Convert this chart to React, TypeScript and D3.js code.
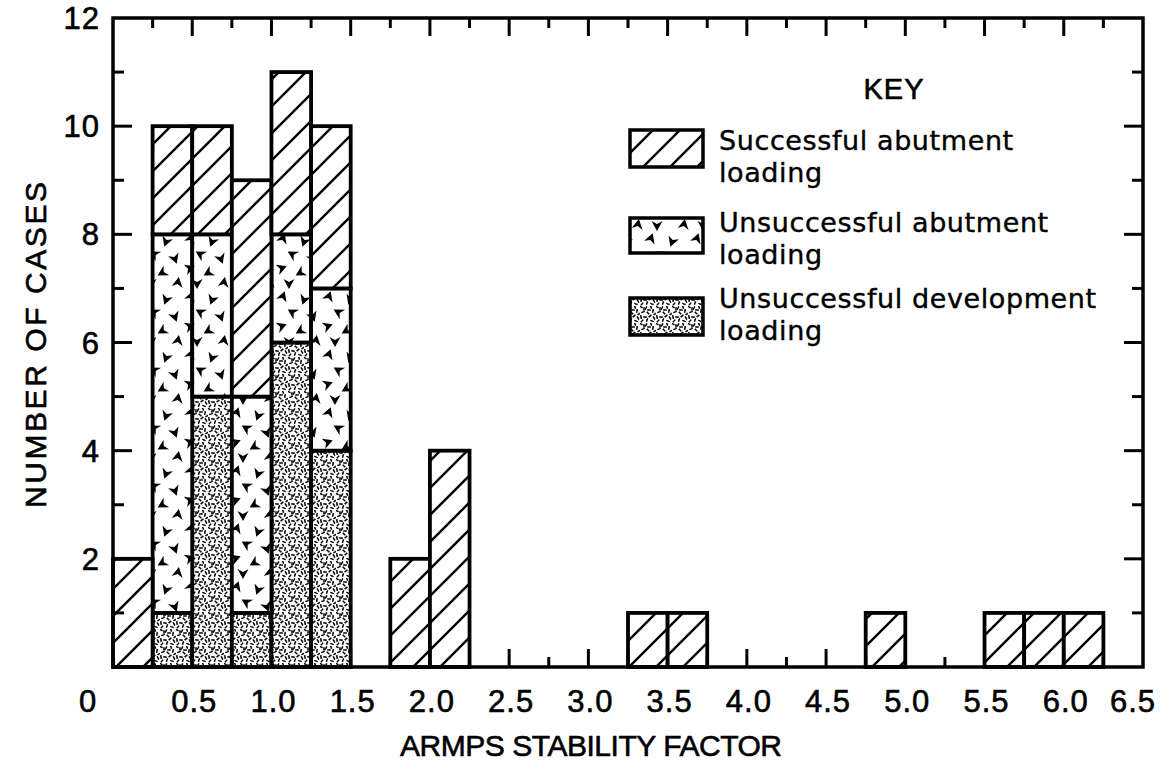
import React, { useEffect, useRef } from 'react';
import * as d3 from 'd3';

// histogram bins (left edge of each 0.25-wide bin that has cases)
const binStarts = [0, 0.25, 0.5, 0.75, 1.0, 1.25, 1.75, 2.0, 3.25, 3.5, 4.75, 5.5, 5.75, 6.0];
const devLoading = [0, 1, 5, 1, 6, 4, 0, 0, 0, 0, 0, 0, 0, 0];
const failedAbutment = [0, 7, 3, 4, 2, 3, 0, 0, 0, 0, 0, 0, 0, 0];
const successAbutment = [2, 2, 2, 4, 3, 3, 2, 4, 1, 1, 1, 1, 1, 1];
const binWidth = 0.25;

const xTickLabels = ['0', '0.5', '1.0', '1.5', '2.0', '2.5', '3.0', '3.5', '4.0', '4.5', '5.0', '5.5', '6.0', '6.5'];
const yTickLabels = ['2', '4', '6', '8', '10', '12'];

const legendItems = [
  { key: 'success', lines: ['Successful abutment', 'loading'] },
  { key: 'failAbut', lines: ['Unsuccessful abutment', 'loading'] },
  { key: 'dev', lines: ['Unsuccessful development', 'loading'] },
];

// texture marks for the hand-drawn patterns
const chevrons = [
  [7, 6, 20], [28, 10, 200], [16, 22, 300], [37, 27, 160],
  [6, 36, 70], [24, 41, 240], [40, 50, 10], [13, 52, 180],
];
const specks = [
  [1, 1, 30], [6, 2, 120], [11, 1, 70], [3, 6, 160], [8, 7, 45], [13, 5, 100],
  [1, 11, 80], [5, 11, 10], [10, 10, 140], [14, 12, 60], [7, 14, 110], [12, 15, 20],
  [2, 15, 130], [4, 3, 90], [15, 8, 150], [9, 4, 0],
];

const FONT = '"Liberation Sans", Arial, sans-serif';
const KEY_FONT = '"DejaVu Sans", "Liberation Sans", sans-serif';

const App = () => {
  const ref = useRef<SVGSVGElement>(null);

  useEffect(() => {
    const svg = d3.select(ref.current);
    svg.selectAll('*').remove();

    const W = 1168, H = 769;
    const x = d3.scaleLinear().domain([0, 6.5]).range([113, 1143]);
    const y = d3.scaleLinear().domain([0, 12]).range([667, 18]);

    svg.attr('width', W).attr('height', H);
    svg.append('rect').attr('width', W).attr('height', H).attr('fill', '#fff');

    const defs = svg.append('defs');

    // diagonal hatch
    const hatch = defs.append('pattern')
      .attr('id', 'hatch').attr('patternUnits', 'userSpaceOnUse')
      .attr('width', 27).attr('height', 27);
    hatch.append('rect').attr('width', 27).attr('height', 27).attr('fill', '#fff');
    hatch.append('path')
      .attr('d', 'M-2,29 L29,-2 M-7,7 L7,-7 M20,34 L34,20')
      .attr('stroke', '#000').attr('stroke-width', 2.4);

    // scattered arrowheads
    const chev = defs.append('pattern')
      .attr('id', 'chev').attr('patternUnits', 'userSpaceOnUse')
      .attr('width', 46).attr('height', 58);
    chev.append('rect').attr('width', 46).attr('height', 58).attr('fill', '#fff');
    chev.selectAll('path').data(chevrons).enter().append('path')
      .attr('d', 'M0,-5 L5.5,5 L0,2 L-5.5,5 Z')
      .attr('transform', d => `translate(${d[0]},${d[1]}) rotate(${d[2]})`)
      .attr('fill', '#000');

    // fine stipple
    const stip = defs.append('pattern')
      .attr('id', 'stip').attr('patternUnits', 'userSpaceOnUse')
      .attr('width', 16).attr('height', 17);
    stip.append('rect').attr('width', 16).attr('height', 17).attr('fill', '#fff');
    stip.selectAll('line').data(specks).enter().append('line')
      .attr('x1', -1.8).attr('x2', 1.8).attr('y1', 0).attr('y2', 0)
      .attr('transform', d => `translate(${d[0]},${d[1]}) rotate(${d[2]})`)
      .attr('stroke', '#000').attr('stroke-width', 1.5);

    const fills: Record<string, string> = {
      dev: 'url(#stip)', failAbut: 'url(#chev)', success: 'url(#hatch)',
    };

    // stacked bars
    const rows = binStarts.map((b, i) => ({
      bin: b, dev: devLoading[i], failAbut: failedAbutment[i], success: successAbutment[i],
    }));
    const stack = d3.stack<any>().keys(['dev', 'failAbut', 'success'])(rows);

    stack.forEach(layer => {
      svg.append('g').selectAll('rect')
        .data(layer.filter(d => d[1] > d[0]))
        .enter().append('rect')
        .attr('x', d => x(d.data.bin))
        .attr('width', x(binWidth) - x(0))
        .attr('y', d => y(d[1]))
        .attr('height', d => y(d[0]) - y(d[1]))
        .attr('fill', fills[layer.key])
        .attr('stroke', '#000').attr('stroke-width', 3.8);
    });

    // frame
    svg.append('rect')
      .attr('x', x(0)).attr('y', y(12))
      .attr('width', x(6.5) - x(0)).attr('height', y(0) - y(12))
      .attr('fill', 'none').attr('stroke', '#000').attr('stroke-width', 3.5);

    // inward ticks
    const ticks = svg.append('g').attr('stroke', '#000').attr('stroke-width', 3);
    d3.range(1, 26).forEach(k => {
      const px = x(k * 0.25);
      const len = k % 2 === 0 ? 18 : 10;
      ticks.append('line').attr('x1', px).attr('x2', px).attr('y1', y(0)).attr('y2', y(0) - len);
      ticks.append('line').attr('x1', px).attr('x2', px).attr('y1', y(12)).attr('y2', y(12) + len);
    });
    d3.range(1, 12).forEach(k => {
      const py = y(k);
      const len = k % 2 === 0 ? 19 : 11;
      ticks.append('line').attr('x1', x(0)).attr('x2', x(0) + len).attr('y1', py).attr('y2', py);
      ticks.append('line').attr('x1', x(6.5)).attr('x2', x(6.5) - len).attr('y1', py).attr('y2', py);
    });

    const textStyle = (sel: any, size: number, family = FONT) => sel
      .style('font-family', family).style('font-size', `${size}px`)
      .attr('fill', '#000').attr('stroke', '#000').attr('stroke-width', 0.6);

    // tick labels
    svg.append('g').selectAll('text').data(xTickLabels).enter().append('text')
      .attr('x', (d, i) => x(i * 0.5) + (i === 0 ? -25 : i === 13 ? -10 : 2))
      .attr('y', 712)
      .attr('text-anchor', 'middle')
      .style('letter-spacing', '1px')
      .call(textStyle, 31)
      .text(d => d);

    svg.append('g').selectAll('text').data(yTickLabels).enter().append('text')
      .attr('x', 100)
      .attr('y', d => y(+d) + 11)
      .attr('text-anchor', 'end')
      .style('letter-spacing', '1px')
      .call(textStyle, 31)
      .text(d => d);

    // axis titles
    svg.append('text')
      .attr('x', 400).attr('y', 756)
      .attr('textLength', 382).attr('lengthAdjust', 'spacing')
      .call(textStyle, 30)
      .text('ARMPS STABILITY FACTOR');

    svg.append('text')
      .attr('transform', 'translate(46,508) rotate(-90)')
      .attr('textLength', 326).attr('lengthAdjust', 'spacing')
      .call(textStyle, 30)
      .text('NUMBER OF CASES');

    // legend
    svg.append('text')
      .attr('x', 894).attr('y', 99)
      .attr('text-anchor', 'middle')
      .style('letter-spacing', '1px')
      .call(textStyle, 29)
      .text('KEY');

    const boxTop = [130, 218, 298];
    const boxH = [37, 35, 37];
    const lineY = [[150, 182], [232, 264], [308, 340]];
    legendItems.forEach((item, i) => {
      svg.append('rect')
        .attr('x', 630).attr('y', boxTop[i]).attr('width', 73).attr('height', boxH[i])
        .attr('fill', fills[item.key])
        .attr('stroke', '#000').attr('stroke-width', 3.5);
      item.lines.forEach((line, j) => {
        svg.append('text')
          .attr('x', 719).attr('y', lineY[i][j])
          .style('letter-spacing', '0.6px')
          .call(textStyle, 27, KEY_FONT)
          .attr('stroke-width', 0.4)
          .text(line);
      });
    });
  }, []);

  return (
    <svg ref={ref} style={{ position: 'absolute', left: 0, top: 0, display: 'block' }} />
  );
};

export default App;
